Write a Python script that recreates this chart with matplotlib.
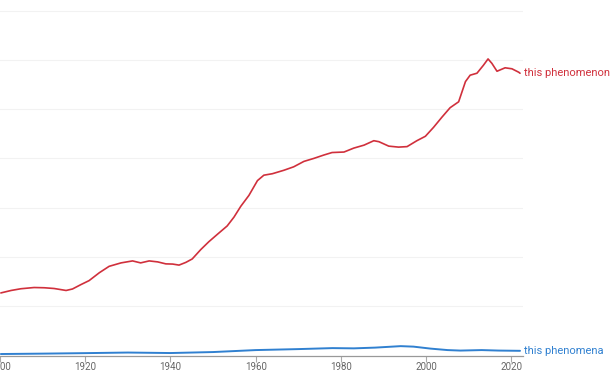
import matplotlib
matplotlib.use("Agg")
import matplotlib.pyplot as plt

years_red = [1900.2, 1902.6, 1904.9, 1908.0, 1910.4, 1912.7, 1915.5, 1917.0, 1919.0, 1920.9,
             1923.3, 1925.6, 1928.4, 1931.1, 1933.0, 1935.0, 1937.0, 1938.9, 1940.5, 1942.0,
             1943.6, 1945.1, 1947.1, 1949.0, 1951.0, 1953.3, 1954.9, 1956.5, 1958.4, 1960.4,
             1961.9, 1963.9, 1966.6, 1968.9, 1971.3, 1973.6, 1976.0, 1977.9, 1980.7, 1983.0,
             1985.4, 1987.7, 1988.9, 1991.2, 1993.5, 1995.5, 1997.8, 1999.8, 2001.7, 2003.7,
             2005.6, 2007.6, 2009.2, 2010.3, 2011.9, 2013.4, 2014.5, 2015.4, 2016.6, 2018.5,
             2020.1, 2021.7, 2022.0]
phenomenon = [1.27, 1.32, 1.355, 1.38, 1.375, 1.36, 1.32, 1.35, 1.44, 1.52,
              1.68, 1.81, 1.88, 1.92, 1.88, 1.92, 1.90, 1.86, 1.856, 1.835,
              1.89, 1.96, 2.15, 2.31, 2.46, 2.63, 2.81, 3.03, 3.25, 3.55,
              3.66, 3.69, 3.76, 3.83, 3.94, 4.00, 4.07, 4.12, 4.13, 4.21,
              4.27, 4.36, 4.34, 4.25, 4.23, 4.24, 4.36, 4.45, 4.63, 4.84,
              5.03, 5.15, 5.56, 5.69, 5.73, 5.89, 6.02, 5.93, 5.77, 5.84,
              5.82, 5.75, 5.73]

years_blue = [1900.2, 1910, 1920, 1930, 1940, 1950, 1960, 1970, 1978, 1983, 1988, 1994,
              1997, 2001, 2005, 2008, 2013, 2017, 2022]
phenomena = [0.03, 0.038, 0.048, 0.06, 0.05, 0.07, 0.11, 0.13, 0.15, 0.145, 0.16, 0.19,
             0.18, 0.14, 0.11, 0.10, 0.11, 0.10, 0.095]

xticks = [1900, 1920, 1940, 1960, 1980, 2000, 2020]
labels = ["this phenomenon", "this phenomena"]
RED = "#d0303c"
BLUE = "#3080d0"

fig = plt.figure(figsize=(6.11, 3.76), dpi=100)
ax = fig.add_axes([0.0, (376 - 355.5) / 376, 523 / 611, 354.7 / 376])

ax.plot(years_red, phenomenon, color=RED, lw=1.2, solid_capstyle="round", solid_joinstyle="round")
ax.plot(years_blue, phenomena, color=BLUE, lw=1.4, solid_capstyle="round", solid_joinstyle="round")

ax.set_xlim(1900.25, 2022.7)
ax.set_ylim(0, 7.2)
ax.set_yticks([1, 2, 3, 4, 5, 6, 7])
ax.yaxis.grid(True, color="#f2f2f2", lw=0.8)
ax.tick_params(axis="y", left=False, labelleft=False)
ax.set_xticks(xticks)
ax.set_xticklabels([str(x) for x in xticks], fontfamily="Roboto", fontsize=7, color="#666666")
ax.tick_params(axis="x", length=4, color="#aaaaaa", width=0.8, pad=1)
for s in ["top", "right", "left"]:
    ax.spines[s].set_visible(False)
ax.spines["bottom"].set_color("#999999")
ax.spines["bottom"].set_linewidth(0.9)

ax.text(2022.9, phenomenon[-1], labels[0], color=RED, fontsize=8, fontfamily="Roboto",
        va="center", ha="left", clip_on=False)
ax.text(2022.9, phenomena[-1], labels[1], color=BLUE, fontsize=8, fontfamily="Roboto",
        va="center", ha="left", clip_on=False)

fig.savefig("out.png", dpi=100)
